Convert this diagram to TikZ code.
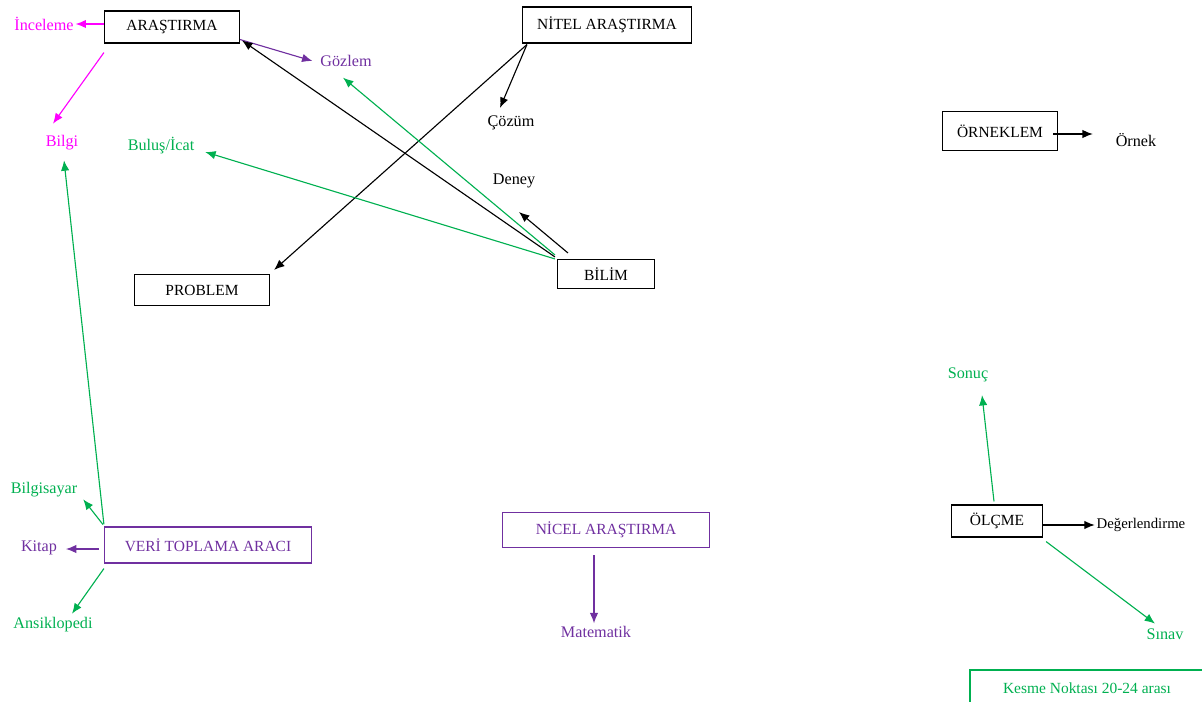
\documentclass[tikz,border=0pt]{standalone}
\usepackage{fontspec}
\setmainfont{Liberation Serif}
\usetikzlibrary{calc,arrows.meta}
\definecolor{pembe}{RGB}{255,0,255}
\definecolor{mor}{RGB}{112,48,160}
\definecolor{yesil}{RGB}{0,176,80}

\begin{document}
\begin{tikzpicture}[x=0.025cm,y=-0.025cm,line width=0.8pt,
  >={Latex[length=2.6mm,width=2.1mm]},
  box/.style={draw,rectangle,inner sep=0pt,font=\fontsize{11}{13}\selectfont},
  lbl/.style={inner sep=1pt,font=\fontsize{11.5}{13}\selectfont}]
\useasboundingbox (0,0) rectangle (1202,702);

\node[box,minimum width=3.375cm,minimum height=0.8cm] (box-arastirma) at (172,27) {ARAŞTIRMA};
\node[box,minimum width=4.225cm,minimum height=0.9cm] (box-nitel) at (607,25) {NİTEL ARAŞTIRMA};
\node[box,minimum width=3.375cm,minimum height=0.775cm] (box-problem) at (202,290) {PROBLEM};
\node[box,minimum width=2.425cm,minimum height=0.725cm] (box-bilim) at (606,274) {BİLİM};
\node[box,minimum width=2.875cm,minimum height=0.975cm] (box-orneklem) at (1000,131) {ÖRNEKLEM};
\node[box,minimum width=2.275cm,minimum height=0.8cm] (box-olcme) at (997,521) {ÖLÇME};
\node[box,draw=mor,text=mor,minimum width=5.175cm,minimum height=0.9cm] (box-veri) at (208,545) {VERİ TOPLAMA ARACI};
\node[box,draw=mor,text=mor,minimum width=5.175cm,minimum height=0.875cm] (box-nicel) at (606,530) {NİCEL ARAŞTIRMA};
\node[box,draw=yesil,text=yesil,minimum width=5.85cm,minimum height=0.9cm] (box-kesme) at (1087,688) {Kesme Noktası 20-24 arası};

\node[lbl,text=pembe] (lbl-inceleme) at (44,24) {İnceleme};
\node[lbl,text=pembe] (lbl-bilgi) at (62,143) {Bilgi};
\node[lbl,text=mor] (lbl-gozlem) at (346,61) {Gözlem};
\node[lbl] (lbl-cozum) at (511,123) {Çözüm};
\node[lbl] (lbl-deney) at (514,181) {Deney};
\node[lbl,text=yesil] (lbl-bulus) at (161,146) {Buluş/İcat};
\node[lbl] (lbl-ornek) at (1136,140) {Örnek};
\node[lbl,text=yesil] (lbl-sonuc) at (968,375) {Sonuç};
\node[lbl,font=\fontsize{10.5}{12}\selectfont] (lbl-deger) at (1141,525) {Değerlendirme};
\node[lbl,text=yesil] (lbl-sinav) at (1165,634) {Sınav};
\node[lbl,text=yesil] (lbl-bilgisayar) at (44,490) {Bilgisayar};
\node[lbl,text=mor] (lbl-kitap) at (39,548) {Kitap};
\node[lbl,text=yesil] (lbl-ansik) at (53,625) {Ansiklopedi};
\node[lbl,text=mor] (lbl-matematik) at (596,632) {Matematik};

\coordinate (nitel-foot) at ($(box-nitel.south west)+(5,1)$);

\draw[->,pembe] ($(box-arastirma.west)+(0,-3)$) -- (lbl-inceleme.east);
\draw[->,pembe] ($(box-arastirma.south west)+(0,9)$) -- ($(lbl-bilgi.north)+(-9,-10)$);
\draw[->,mor] ($(box-arastirma.south east)+(0,-4)$) -- ($(lbl-gozlem.west)+(-6,0)$);
\draw[->] (nitel-foot) -- ($(lbl-cozum.north)+(-11,-6)$);
\draw[->] (nitel-foot) -- ($(box-problem.north east)+(4,-4)$);
\draw[->] ($(box-bilim.north west)+(-2,-2)$) -- ($(box-arastirma.south east)+(2,-3)$);
\draw[->,yesil] ($(box-bilim.north west)+(-2,-4)$) -- ($(lbl-gozlem.south)+(-3,9)$);
\draw[->,yesil] ($(box-bilim.north west)+(-2,0)$) -- ($(lbl-bulus.east)+(9,6)$);
\draw[->] ($(box-bilim.north west)+(11,-6)$) -- ($(lbl-deney.south)+(5,22)$);
\draw[->] ($(box-orneklem.east)+(-5,3)$) -- ($(lbl-ornek.west)+(-21,-6)$);
\draw[->,yesil] ($(box-olcme.north)+(-3,-3)$) -- ($(lbl-sonuc.south)+(14,11)$);
\draw[->] ($(box-olcme.east)+(0,4)$) -- (lbl-deger.west);
\draw[->,yesil] ($(box-olcme.south east)+(3,4)$) -- ($(lbl-sinav.north)+(-10,-3)$);
\draw[->,yesil] ($(box-veri.north west)+(0,-2)$) -- ($(lbl-bilgi.south)+(2,8)$);
\draw[->,yesil] ($(box-veri.north west)+(-1,-2)$) -- ($(lbl-bilgisayar.south east)+(4,0)$);
\draw[->,mor] ($(box-veri.west)+(-5,4)$) -- ($(lbl-kitap.east)+(7,1)$);
\draw[->,yesil] ($(box-veri.south west)+(0,5)$) -- ($(lbl-ansik.north)+(19,-2)$);
\draw[->,mor] ($(box-nicel.south)+(-12,7)$) -- ($(lbl-matematik.north)+(-2,-1)$);
\end{tikzpicture}
\end{document}
